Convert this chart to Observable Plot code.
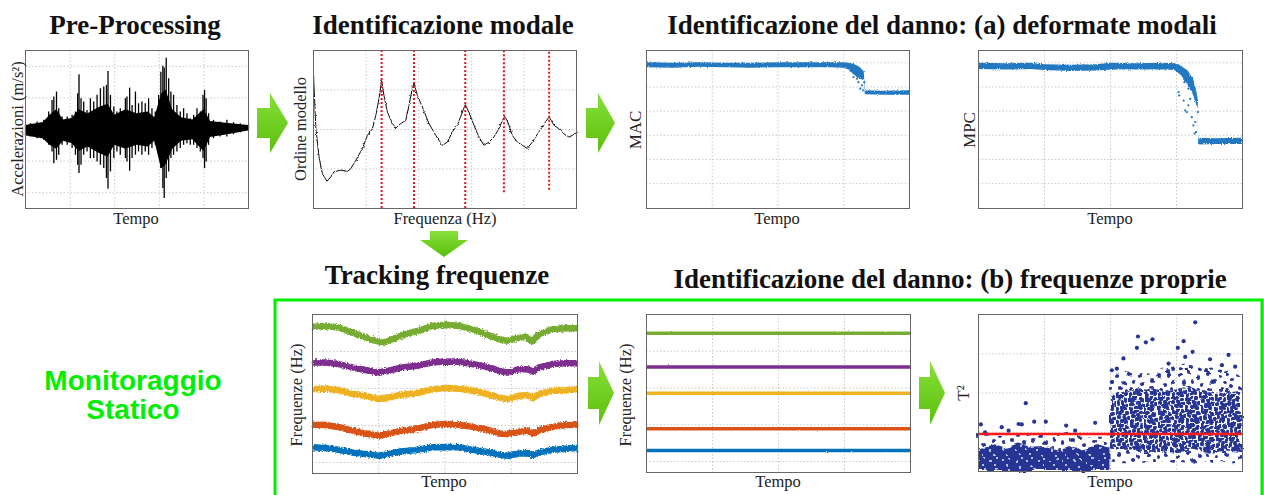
<!DOCTYPE html>
<html><head><meta charset="utf-8">
<script src="https://cdn.jsdelivr.net/npm/d3@7"></script>
<script src="https://cdn.jsdelivr.net/npm/@observablehq/plot@0.6"></script>
<style>
html,body{margin:0;padding:0;background:#fff;}
#root{position:relative;width:1264px;height:495px;overflow:hidden;}
</style></head><body><div id="root"></div>
<script>
// ---------- DATA ----------
// Pre-processing: acceleration peaks (time 0-100, normalized accel)
const accelTime  = [0,2.2,5.2,8.2,10.4,11.9,12.7,13.9,14.9,16.4,18.7,20.9,22.4,23.4,24.0,24.9,26.1,27.6,29.1,30.6,32.1,33.6,35.1,36.3,37.0,38.1,39.6,41.0,42.5,44.8,45.5,46.7,47.8,49.3,50.7,52.2,53.7,55.2,56.7,58.2,59.7,60.7,61.6,62.2,63.1,64.2,65.2,66.4,67.9,69.4,70.9,72.4,73.9,75.4,76.9,78.4,79.6,80.3,81.0,82.1,84.3,87.3,90.3,93.3,96.3,100];
const accelUpper = [0.053,0.074,0.095,0.116,0.221,0.368,0.411,0.474,0.263,0.158,0.158,0.179,0.221,0.453,0.693,0.389,0.347,0.242,0.389,0.347,0.432,0.516,0.537,0.558,0.735,0.432,0.284,0.221,0.263,0.389,0.411,0.524,0.305,0.474,0.326,0.347,0.326,0.389,0.263,0.221,0.432,0.726,0.802,0.777,0.903,0.642,0.474,0.432,0.305,0.221,0.263,0.200,0.137,0.179,0.263,0.221,0.432,0.495,0.389,0.200,0.116,0.095,0.116,0.086,0.074,0.061];
const accelLower = [-0.082,-0.095,-0.116,-0.137,-0.200,-0.284,-0.432,-0.390,-0.326,-0.200,-0.200,-0.242,-0.326,-0.453,-0.558,-0.453,-0.326,-0.284,-0.368,-0.368,-0.411,-0.453,-0.495,-0.621,-0.756,-0.537,-0.368,-0.284,-0.326,-0.368,-0.411,-0.528,-0.368,-0.326,-0.284,-0.326,-0.284,-0.326,-0.242,-0.200,-0.326,-0.495,-0.747,-0.874,-0.621,-0.537,-0.368,-0.326,-0.284,-0.242,-0.200,-0.179,-0.200,-0.200,-0.242,-0.284,-0.368,-0.495,-0.411,-0.200,-0.116,-0.095,-0.095,-0.065,-0.040,-0.011];
// dense core of the record
const accelCoreTime  = [0,8,11,14,17,21,24,28,33,37,40,45,50,55,58,61,63,66,70,75,80,83,90,100];
const accelCoreUpper = [0.05,0.09,0.18,0.25,0.12,0.14,0.25,0.20,0.28,0.32,0.18,0.25,0.20,0.22,0.15,0.45,0.50,0.25,0.15,0.12,0.25,0.10,0.08,0.05];
const accelCoreLower = [-0.08,-0.12,-0.20,-0.25,-0.15,-0.18,-0.28,-0.22,-0.30,-0.35,-0.20,-0.25,-0.20,-0.22,-0.15,-0.50,-0.45,-0.25,-0.15,-0.13,-0.28,-0.10,-0.07,-0.02];
const accelGridX = [20,40,60,80];
const accelGridY = [-0.8,-0.4,0,0.4,0.8];

// Modal identification: stabilization curve + identified modes
const modFreq  = [0,0.9,2.2,3.4,5.1,6.6,7.8,10.4,12.9,14.2,16.1,18.6,20.5,22.4,23.7,24.9,25.9,26.8,28.1,30.0,31.3,33.2,35.1,36.3,37.3,38.2,39.5,41.4,43.9,46.5,49.0,50.9,52.8,54.7,56.6,57.7,59.1,61.0,62.9,64.8,66.7,68.6,70.5,71.8,72.7,73.9,75.6,77.5,79.4,81.3,83.2,85.7,88.2,89.6,91.4,93.3,95.2,97.1,98.4,100];
const modOrder = [3.41,2.02,1.26,0.88,0.69,0.80,0.93,0.97,0.94,1.01,1.22,1.52,1.85,2.02,2.36,2.78,3.24,2.86,2.44,2.15,2.04,2.15,2.23,2.61,2.95,3.18,2.86,2.57,2.15,1.85,1.60,1.68,1.94,2.11,2.44,2.63,2.44,2.11,1.81,1.60,1.68,1.81,2.02,2.23,2.33,2.19,1.85,1.68,1.60,1.52,1.68,1.94,2.19,2.32,2.11,2.02,1.89,1.81,1.85,1.92];
const modePeaks   = [25.9,38.2,57.7,72.4,89.6];
const modeBottoms = [0,0,0,0.40,0.46];
const modGridX = [20,40,60,80];
const modGridY = [1,2,3];

// MAC
const macTime = [0,10,20,30,40,50,60,70,75,77,79,81,82.8,83.2,90,100];
const macLow  = [0.980,0.978,0.982,0.980,0.978,0.980,0.980,0.980,0.978,0.970,0.950,0.935,0.925,0.868,0.866,0.866];
const macHigh = [1.000,0.998,1.000,0.998,0.998,1.000,1.000,1.000,1.000,0.998,0.993,0.983,0.963,0.884,0.882,0.884];
const macScatterT = [77.5,78.2,78.7,79.4,80,80.6,81.3,81.9,82.3,82.8];
const macScatterV = [0.968,0.975,0.941,0.955,0.934,0.92,0.893,0.907,0.886,0.92];
// MPC
const mpcTime = [0,10,20,25,35,45,50,60,70,74.5,77,79.5,81.5,82.5,83.2,83.4,90,100];
const mpcLow  = [0.972,0.970,0.972,0.968,0.964,0.966,0.970,0.970,0.970,0.968,0.945,0.905,0.865,0.83,0.81,0.660,0.662,0.662];
const mpcHigh = [0.998,0.996,0.998,0.992,0.990,0.992,0.998,0.996,0.998,0.996,0.985,0.965,0.93,0.89,0.85,0.688,0.686,0.688];
const mpcScatterT = [75.8,76,77.7,78.3,78.9,79.5,80.2,80.8,81.4,82.1,82.4,81.8,79.5,83.1,78];
const mpcScatterV = [0.879,0.865,0.844,0.803,0.796,0.824,0.851,0.775,0.741,0.755,0.713,0.707,0.893,0.796,0.92];
const shapeGridX = [25,50,75];
const shapeGridY = [0.5,0.6,0.7,0.8,0.9,1.0];

// Frequency tracking (5 modes)
const trackTimeA = [0,4.8,9.8,14.9,19.9,23.7,26.9,30.0,35.1,40.1,45.1,50.2,55.2,60.3,65.3,70.4,73.5,76.7,80.5,83.0,85.5,90.5,95.6,100];
const trackGreen = [4.67,4.69,4.65,4.51,4.38,4.29,4.24,4.33,4.47,4.56,4.69,4.72,4.69,4.60,4.47,4.33,4.29,4.36,4.40,4.28,4.47,4.60,4.63,4.63];
const trackTimeB = [0,4.8,9.8,14.9,19.9,25.0,28.8,33.8,38.8,45.1,50.2,55.2,60.3,65.3,70.4,73.5,77.9,81.1,83.2,85.5,90.5,95.6,100];
const trackPurple = [3.70,3.70,3.66,3.57,3.50,3.43,3.48,3.57,3.61,3.70,3.73,3.72,3.66,3.59,3.48,3.43,3.52,3.52,3.46,3.57,3.66,3.68,3.68];
const trackYellow = [2.98,3.00,2.95,2.86,2.80,2.71,2.76,2.83,2.86,2.98,3.01,3.00,2.94,2.86,2.76,2.71,2.80,2.82,2.74,2.85,2.94,2.95,2.98];
const trackOrange = [2.02,2.01,1.96,1.86,1.78,1.72,1.78,1.86,1.90,2.01,2.04,2.02,1.96,1.90,1.78,1.77,1.83,1.86,1.78,1.87,1.96,2.01,2.02];
const trackBlue   = [1.41,1.39,1.34,1.27,1.23,1.18,1.23,1.30,1.33,1.41,1.42,1.41,1.34,1.29,1.21,1.18,1.24,1.25,1.20,1.27,1.34,1.37,1.39];
const modeColors  = ["#77ac30","#7e2f8e","#edb120","#d95319","#0072bd"];
// Compensated (constant) frequencies
const constLevels = [4.49,3.57,2.86,1.89,1.30];
const freqGridX = [25,50,75];
const freqGridY = [1,2,3,4];

// T^2 control chart
const t2LeftT      = [0,5,10,15,20,25,30,35,40,45,49.8];
const t2LeftSolid  = [0.60,0.68,0.58,0.70,0.62,0.64,0.55,0.62,0.58,0.66,0.60];
const t2LeftSparse = [0.95,0.95,0.90,1.00,0.95,0.92,0.90,0.95,0.92,0.90,0.90];
const t2RightT     = [50,55,60,65,70,75,80,85,90,95,100];
const t2RightLow   = [0.25,0.20,0.20,0.22,0.25,0.20,0.20,0.25,0.20,0.25,0.25];
const t2RightBase  = [0.55,0.50,0.50,0.55,0.50,0.50,0.55,0.50,0.50,0.55,0.50];
const t2RightCore  = [1.90,2.00,2.10,2.10,2.05,2.10,2.20,2.00,2.05,1.95,2.00];
const t2RightOuter = [2.30,2.55,2.50,2.45,2.60,2.70,2.75,2.60,2.65,2.60,2.35];
const t2OutT = [0.9,2.5,8.8,11.4,15.2,16.4,17.9,21.1,25.5,33.2,36.6,44.2,82.1,60.4,60,63.4,65.9,77.7,75.5,81.1,54.9,94.7,87.7,78.3,72,50.5,52.4,92.2,97.2,50.5];
const t2OutV = [1.20,1.00,1.13,1.04,1.21,1.20,1.74,1.27,1.27,1.17,1.04,1.24,3.80,3.44,3.15,3.29,3.37,3.32,3.15,3.05,2.88,2.97,2.86,2.92,2.75,2.58,2.62,2.71,2.67,2.28];
const t2Threshold = 0.957;
const t2GridX = [25,50,75];
const t2GridY = [1,2,3];

// ---------- HELPERS ----------
const root = document.getElementById("root");
const GRID = {stroke:"#bdbdbd", strokeWidth:0.8, strokeDasharray:"1.5,2"};
const FRAME = Plot.frame({stroke:"#666", strokeWidth:1});
function grid(gx, gy){ return [Plot.ruleX(gx, GRID), Plot.ruleY(gy, GRID)]; }
function panel(fr, xdom, ydom, marks){
  const m = 2;
  const svg = Plot.plot({
    width: fr.w + 2*m, height: fr.h + 2*m, margin: m,
    x: {domain: xdom, axis: null}, y: {domain: ydom, axis: null},
    style: {background: "transparent", overflow: "visible"},
    marks
  });
  svg.style.position = "absolute";
  svg.style.left = (fr.x - m) + "px";
  svg.style.top = (fr.y - m) + "px";
  root.appendChild(svg);
  return svg;
}
// roughening filter (style only) so thick traces look like noisy measured data
function addRough(svg, id, freq, scale, octaves){
  let defs = d3.select(svg).select("defs");
  if (defs.empty()) defs = d3.select(svg).insert("defs", ":first-child");
  const f = defs.append("filter").attr("id", id).attr("filterUnits","userSpaceOnUse")
    .attr("x",-20).attr("y",-20).attr("width",+svg.getAttribute("width")+40).attr("height",+svg.getAttribute("height")+40);
  f.append("feTurbulence").attr("type","fractalNoise").attr("baseFrequency",freq).attr("numOctaves",octaves||2).attr("seed",7).attr("result","n");
  f.append("feDisplacementMap").attr("in","SourceGraphic").attr("in2","n").attr("scale",scale).attr("xChannelSelector","R").attr("yChannelSelector","G");
  return defs;
}
const zip = (xs, cols) => xs.map((x,i) => { const o = {x}; for (const k in cols) o[k] = cols[k][i]; return o; });

// 1. Pre-processing
panel({x:25,y:50,w:223,h:158}, [0,100], [-1,1], [
  ...grid(accelGridX, accelGridY),
  Plot.areaY(zip(accelCoreTime,{lo:accelCoreLower,hi:accelCoreUpper}), {x:"x", y1:"lo", y2:"hi", fill:"#000"}),
  Plot.ruleX(zip(accelTime,{lo:accelLower,hi:accelUpper}), {x:"x", y1:"lo", y2:"hi", stroke:"#000", strokeWidth:1.3}),
  FRAME
]);

// 2. Modal identification
const modSvg = panel({x:313,y:50,w:263,h:158}, [0,100], [0,4], [
  ...grid(modGridX, modGridY),
  Plot.line(zip(modFreq,{v:modOrder}), {x:"x", y:"v", stroke:"#111", strokeWidth:1}),
  Plot.ruleX(zip(modePeaks,{b:modeBottoms}), {x:"x", y1:"b", y2:4, stroke:"#e3141b", strokeWidth:2, strokeDasharray:"2,2"}),
  FRAME
]);
addRough(modSvg, "roughMod", 0.35, 2.5);
d3.select(modSvg).selectAll("g[aria-label='line'] path").attr("filter","url(#roughMod)");

// 3. MAC
const BLUE = "#2079c2";
const macSvg = panel({x:646,y:50,w:263,h:158}, [0,100], [0.397,1.051], [
  ...grid(shapeGridX, shapeGridY),
  Plot.areaY(zip(macTime,{lo:macLow,hi:macHigh}), {x:"x", y1:"lo", y2:"hi", fill:BLUE}),
  Plot.dot(zip(macScatterT,{v:macScatterV}), {x:"x", y:"v", r:1.1, fill:BLUE, stroke:null}),
  FRAME
]);
addRough(macSvg, "roughMac", 0.9, 2.5);
d3.select(macSvg).selectAll("g[aria-label='area'] path").attr("filter","url(#roughMac)");
// 4. MPC
const mpcSvg = panel({x:978,y:50,w:264,h:158}, [0,100], [0.397,1.051], [
  ...grid(shapeGridX, shapeGridY),
  Plot.areaY(zip(mpcTime,{lo:mpcLow,hi:mpcHigh}), {x:"x", y1:"lo", y2:"hi", fill:BLUE}),
  Plot.dot(zip(mpcScatterT,{v:mpcScatterV}), {x:"x", y:"v", r:1.1, fill:BLUE, stroke:null}),
  FRAME
]);
addRough(mpcSvg, "roughMpc", 0.9, 3);
d3.select(mpcSvg).selectAll("g[aria-label='area'] path").attr("filter","url(#roughMpc)");

// 5. Frequency tracking
const trackSeries = [
  [trackTimeA, trackGreen], [trackTimeB, trackPurple], [trackTimeB, trackYellow],
  [trackTimeB, trackOrange], [trackTimeB, trackBlue]
];
const trkSvg = panel({x:312,y:314,w:265,h:159}, [0,100], [0.7,5.0], [
  ...grid(freqGridX, freqGridY),
  ...trackSeries.map(([t,v],k) => Plot.line(zip(t,{v}), {x:"x", y:"v", stroke:modeColors[k], strokeWidth:6.5, strokeLinejoin:"round", strokeLinecap:"butt"})),
  FRAME
]);
addRough(trkSvg, "roughTrk", 0.7, 4);
d3.select(trkSvg).selectAll("g[aria-label='line'] path").attr("filter","url(#roughTrk)");

// 6. Compensated frequencies
const cstSvg = panel({x:646,y:314,w:264,h:158}, [0,100], [0.7,5.0], [
  ...grid(freqGridX, freqGridY),
  Plot.ruleY(constLevels.map((v,k)=>({v,k})), {y:"v", x1:0, x2:100, stroke:(d)=>modeColors[d.k], strokeWidth:3.5}),
  FRAME
]);
addRough(cstSvg, "roughCst", 0.9, 1.5);
d3.select(cstSvg).selectAll("g[aria-label='rule'] line").filter(function(){ return this.getAttribute("stroke") && this.getAttribute("stroke") !== "#bdbdbd"; }).attr("filter","url(#roughCst)");

// 7. T^2
const NAVY = "#283593";
const t2svg = panel({x:978,y:314,w:264,h:157}, [0,100], [0,4], [
  ...grid(t2GridX, t2GridY),
  Plot.areaY(zip(t2LeftT,{a:t2LeftSolid}), {x:"x", y1:0, y2:"a", fill:"url(#t2solid)"}),
  Plot.areaY(zip(t2LeftT,{a:t2LeftSolid,b:t2LeftSparse}), {x:"x", y1:"a", y2:"b", fill:"url(#t2sparse)"}),
  Plot.areaY(zip(t2RightT,{a:t2RightLow,b:t2RightBase}), {x:"x", y1:"a", y2:"b", fill:"url(#t2sparse)"}),
  Plot.areaY(zip(t2RightT,{a:t2RightBase,b:t2RightCore}), {x:"x", y1:"a", y2:"b", fill:"url(#t2dense)"}),
  Plot.areaY(zip(t2RightT,{a:t2RightCore,b:t2RightOuter}), {x:"x", y1:"a", y2:"b", fill:"url(#t2sparse)"}),
  Plot.dot(zip(t2OutT,{v:t2OutV}), {x:"x", y:"v", r:2.1, fill:NAVY, stroke:null}),
  Plot.ruleY([t2Threshold], {stroke:"#ff1a1a", strokeWidth:2.5}),
  FRAME
]);
{
  const defs = addRough(t2svg, "roughT2", 0.06, 10, 1);
  const solid = defs.append("pattern").attr("id","t2solid").attr("patternUnits","userSpaceOnUse").attr("width",12).attr("height",12);
  solid.append("rect").attr("width",12).attr("height",12).attr("fill",NAVY);
  [[3,5],[9,2],[7,10]].forEach(([x,y])=>solid.append("circle").attr("cx",x).attr("cy",y).attr("r",0.9).attr("fill","#ffffff"));
  const dense = defs.append("pattern").attr("id","t2dense").attr("patternUnits","userSpaceOnUse").attr("width",14).attr("height",14);
  [[1,2],[6,1],[11,3],[3,7],[8,6],[13,8],[1,12],[6,11],[10,12],[4,3],[9,9]].forEach(([x,y])=>dense.append("circle").attr("cx",x).attr("cy",y).attr("r",2.2).attr("fill",NAVY));
  const sparse = defs.append("pattern").attr("id","t2sparse").attr("patternUnits","userSpaceOnUse").attr("width",20).attr("height",20);
  [[3,4],[12,2],[17,9],[8,11],[15,16],[4,17],[10,19]].forEach(([x,y])=>sparse.append("circle").attr("cx",x).attr("cy",y).attr("r",2.1).attr("fill",NAVY));
  d3.select(t2svg).selectAll("g[aria-label='area'] path").attr("filter","url(#roughT2)");
}

// ---------- OVERLAY: titles, labels, arrows, box ----------
const ov = d3.select(root).append("svg").attr("width",1264).attr("height",495)
  .style("position","absolute").style("left","0px").style("top","0px");
const grad = ov.append("defs").append("linearGradient").attr("id","arrowGrad").attr("x1",0).attr("y1",0).attr("x2",0).attr("y2",1);
grad.append("stop").attr("offset","0%").attr("stop-color","#86e03a");
grad.append("stop").attr("offset","100%").attr("stop-color","#5cbf0c");

function rightArrow(x0, xh, x1, yc, bh, hh){
  ov.append("polygon").attr("points",[[x0,yc-bh],[xh,yc-bh],[xh,yc-hh],[x1,yc],[xh,yc+hh],[xh,yc+bh],[x0,yc+bh]].map(p=>p.join(",")).join(" ")).attr("fill","url(#arrowGrad)");
}
rightArrow(257,270,288,123,15,30);
rightArrow(586,598,615,123,15,30);
rightArrow(588,599,614,393,16,32);
rightArrow(919,930,945,393,16,32);
ov.append("polygon").attr("points","430,231 458,231 458,240 468,240 444,257 420,240 430,240").attr("fill","url(#arrowGrad)");

// Monitoring box
ov.append("path").attr("d","M275,500 L275,300 L1262,300 L1262,500").attr("fill","none").attr("stroke","#00f000").attr("stroke-width",3);

const SERIF = "'Liberation Serif','Times New Roman',serif";
function title(x, y, s){
  ov.append("text").attr("x",x).attr("y",y).attr("text-anchor","middle").attr("font-family",SERIF)
    .attr("font-weight","bold").attr("font-size",27).attr("fill","#111").text(s);
}
title(135,34,"Pre-Processing");
title(443,34,"Identificazione modale");
title(942,34,"Identificazione del danno: (a) deformate modali");
title(437,284,"Tracking frequenze");
title(950,288,"Identificazione del danno: (b) frequenze proprie");

function label(x, y, s, size){
  ov.append("text").attr("x",x).attr("y",y).attr("text-anchor","middle").attr("font-family",SERIF)
    .attr("font-size",size||16.5).attr("fill","#222").text(s);
}
function vlabel(x, y, s, size){
  ov.append("text").attr("transform",`translate(${x},${y}) rotate(-90)`).attr("text-anchor","middle")
    .attr("font-family",SERIF).attr("font-size",size||16.5).attr("fill","#222").text(s);
}
vlabel(23,129,"Accelerazioni (m/s²)");
label(136,224,"Tempo");
vlabel(306,129,"Ordine modello");
label(445,224,"Frequenza (Hz)");
vlabel(641,130,"MAC",17);
label(777,224,"Tempo");
vlabel(975,130,"MPC",17);
label(1110,224,"Tempo");
vlabel(302,395,"Frequenze (Hz)");
label(444,487,"Tempo");
vlabel(631,395,"Frequenze (Hz)");
label(778,487,"Tempo");
vlabel(969,393,"T²",17);
label(1110,487,"Tempo");

ov.append("text").attr("x",133).attr("y",390).attr("text-anchor","middle")
  .attr("font-family","'Liberation Sans',Arial,sans-serif").attr("font-weight","bold").attr("font-size",28).attr("fill","#00ee00").text("Monitoraggio");
ov.append("text").attr("x",133).attr("y",419).attr("text-anchor","middle")
  .attr("font-family","'Liberation Sans',Arial,sans-serif").attr("font-weight","bold").attr("font-size",28).attr("fill","#00ee00").text("Statico");
</script>
</body></html>
